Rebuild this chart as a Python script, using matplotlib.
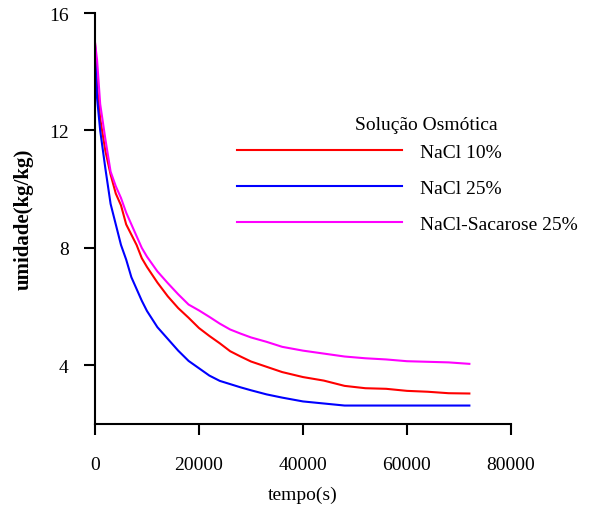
import matplotlib.pyplot as plt

# tempo (s) e umidade (kg/kg)
tempo = [0, 400, 1000, 2000, 3000, 4000, 5000, 6000, 7000, 8000, 9000, 10000,
         12000, 14000, 16000, 18000, 20000, 22000, 24000, 26000, 28000, 30000,
         33000, 36000, 40000, 44000, 48000, 52000, 56000, 60000, 64000, 68000, 72000]

nacl10 = [15.0, 13.5, 12.4, 11.3, 10.5, 9.85, 9.45, 8.8, 8.45, 8.1, 7.65, 7.35,
          6.82, 6.35, 5.95, 5.62, 5.27, 5.0, 4.75, 4.48, 4.3, 4.13,
          3.95, 3.77, 3.6, 3.48, 3.3, 3.22, 3.2, 3.13, 3.1, 3.05, 3.04]

nacl25 = [14.9, 13.1, 12.0, 10.7, 9.5, 8.8, 8.1, 7.6, 7.0, 6.6, 6.2, 5.85,
          5.3, 4.9, 4.5, 4.15, 3.9, 3.65, 3.47, 3.36, 3.25, 3.15,
          3.01, 2.9, 2.77, 2.7, 2.63, 2.63, 2.63, 2.63, 2.63, 2.63, 2.63]

sacarose25 = [15.0, 14.4, 12.9, 11.7, 10.6, 10.1, 9.7, 9.2, 8.8, 8.4, 8.0, 7.7,
              7.2, 6.8, 6.42, 6.07, 5.87, 5.65, 5.42, 5.22, 5.08, 4.95,
              4.8, 4.63, 4.5, 4.4, 4.3, 4.24, 4.2, 4.14, 4.12, 4.1, 4.05]

plt.rcParams['font.family'] = ['Liberation Serif', 'DejaVu Serif']

fig = plt.figure(figsize=(6.14, 5.06), dpi=100)
ax = fig.add_axes([0.1547, 0.160, 0.6775, 0.8123])

ax.plot(tempo, nacl10, c='#ff0000', lw=1.5, label='NaCl 10%')
ax.plot(tempo, nacl25, c='#0000ff', lw=1.5, label='NaCl 25%')
ax.plot(tempo, sacarose25, c='#ff00ff', lw=1.5, label='NaCl-Sacarose 25%')

ax.set_xlim(0, 80000)
ax.set_ylim(2, 16)
ax.set_xticks([0, 20000, 40000, 60000, 80000])
ax.set_yticks([4, 8, 12, 16])

for s in ['top', 'right']:
    ax.spines[s].set_visible(False)
for s in ['left', 'bottom']:
    ax.spines[s].set_linewidth(1.5)

ax.tick_params(axis='both', direction='out', length=8, width=1.5, labelsize=14)
ax.tick_params(axis='x', pad=15)
ax.tick_params(axis='y', pad=11)

ax.set_xlabel('tempo(s)', fontsize=14, labelpad=9)
ax.set_ylabel('umidade(kg/kg)', fontsize=15, fontweight='bold', labelpad=11)

leg = ax.legend(loc='upper left',
                bbox_to_anchor=(0.386, 0.715), bbox_transform=fig.transFigure,
                frameon=False, fontsize=14,
                handlelength=8.5, handletextpad=0.9, labelspacing=0.95,
                borderpad=0, borderaxespad=0)
fig.text(0.695, 0.752, 'Solução Osmótica', fontsize=14, ha='center', va='center')

plt.savefig('out.png', dpi=100)
